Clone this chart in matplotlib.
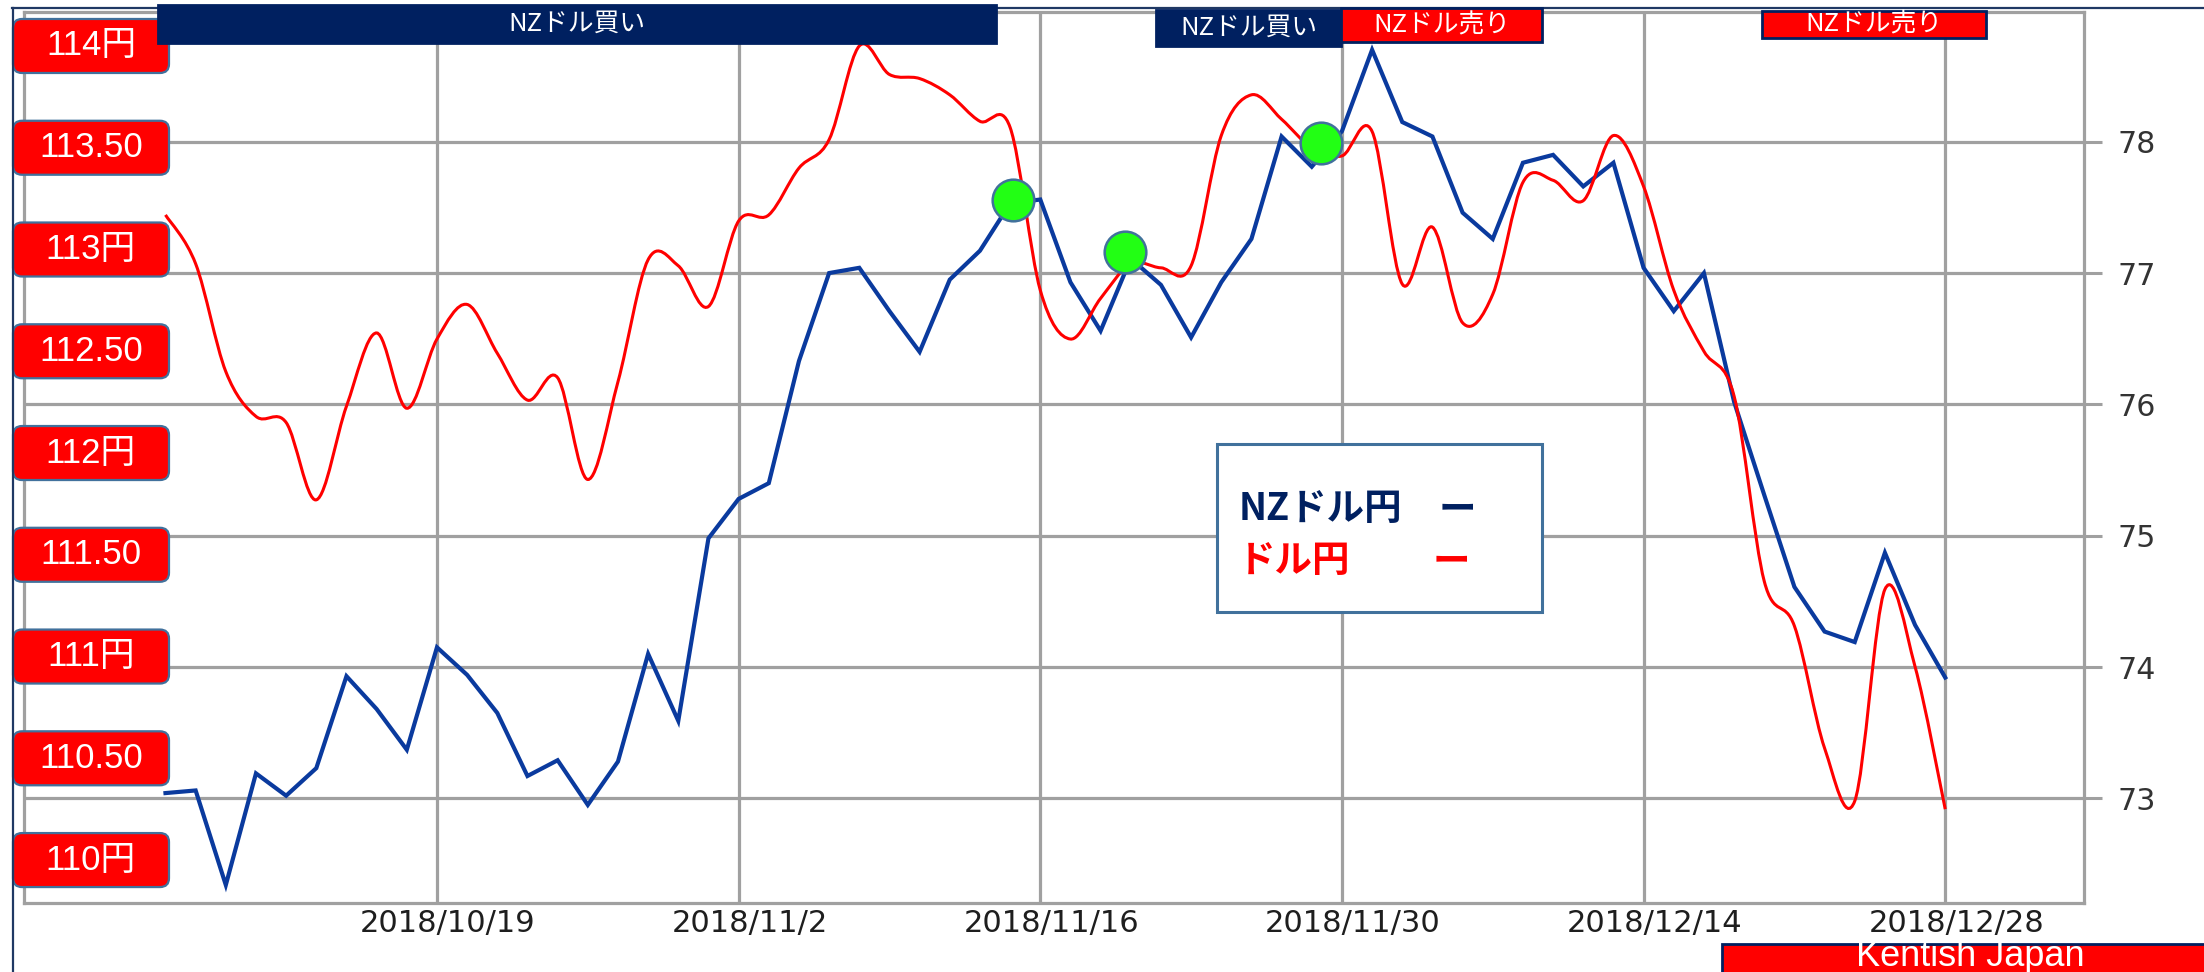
import numpy as np
import pandas as pd
import matplotlib
matplotlib.use("Agg")
import matplotlib.pyplot as plt
from matplotlib.path import Path
from matplotlib.patches import PathPatch, Rectangle, FancyBboxPatch
from matplotlib.lines import Line2D
from matplotlib.transforms import IdentityTransform, ScaledTranslation

# trading days shown on the x axis (weekdays 2018/10/8 - 2018/12/28)
dates = pd.bdate_range("2018-10-08", "2018-12-28")
tick_dates = ["2018-10-19", "2018-11-02", "2018-11-16", "2018-11-30", "2018-12-14", "2018-12-28"]
tick_labels = ["2018/10/19", "2018/11/2", "2018/11/16", "2018/11/30", "2018/12/14", "2018/12/28"]

# NZドル円 (right axis)
nzdjpy = [73.04, 73.06, 72.34, 73.19, 73.02, 73.23, 73.93, 73.68, 73.37, 74.15,
          73.94, 73.65, 73.17, 73.29, 72.95, 73.28, 74.10, 73.59, 74.98, 75.28,
          75.40, 76.33, 77.00, 77.04, 76.71, 76.40, 76.95, 77.17, 77.53, 77.56,
          76.93, 76.56, 77.11, 76.91, 76.51, 76.93, 77.26, 78.04, 77.81, 78.08,
          78.70, 78.15, 78.04, 77.46, 77.26, 77.84, 77.90, 77.66, 77.84, 77.04,
          76.71, 77.00, 76.02, 75.31, 74.61, 74.27, 74.19, 74.87, 74.32, 73.92]

# ドル円 (left scale)
usdjpy = [113.17, 112.93, 112.40, 112.18, 112.15, 111.77, 112.23, 112.59, 112.22, 112.56,
          112.73, 112.49, 112.26, 112.37, 111.87, 112.35, 112.95, 112.92, 112.72, 113.14,
          113.17, 113.40, 113.54, 114.00, 113.86, 113.84, 113.76, 113.63, 113.60, 112.80,
          112.56, 112.76, 112.93, 112.91, 112.92, 113.56, 113.76, 113.64, 113.50, 113.46,
          113.58, 112.83, 113.11, 112.64, 112.78, 113.33, 113.34, 113.24, 113.56, 113.31,
          112.80, 112.50, 112.28, 111.37, 111.15, 110.55, 110.29, 111.33, 110.95, 110.25]

# green signal markers (position in trading days, NZドル円 level)
signal_pos = [28.1, 31.8, 38.3]
signal_val = [77.56, 77.16, 77.99]

nz_ticks = [73, 74, 75, 76, 77, 78]
yen_levels = [114, 113.5, 113, 112.5, 112, 111.5, 111, 110.5, 110]
yen_labels = ["114円", "113.50", "113円", "112.50", "112円", "111.50", "111円", "110.50", "110円"]

banners = [("NZドル買い", "#002060"), ("NZドル買い", "#002060"),
           ("NZドル売り", "#FF0000"), ("NZドル売り", "#FF0000")]

JP = ["Noto Sans CJK JP", "DejaVu Sans"]
NUMJP = ["Liberation Sans", "Noto Sans CJK JP"]
NAVY = "#002060"
GRID = "#A0A0A0"

W, H = 2204, 972
fig = plt.figure(figsize=(W / 100, H / 100), dpi=100)


def fx(px):
    return px / W


def fy(py):
    return 1 - py / H


ax = fig.add_axes([fx(24), fy(903), fx(2084) - fx(24), fy(12) - fy(903)])
ax2 = ax.twinx()

x = np.arange(len(dates))
ax.plot(x, nzdjpy, color="#0A3A9E", lw=3.0, solid_joinstyle="miter", zorder=3)


def smooth_path(xs, ys):
    # smoothed line like the spreadsheet's "smooth line" option
    pts = np.column_stack([xs, ys]).astype(float)
    ext = np.vstack([pts[0], pts, pts[-1]])
    verts = [pts[0]]
    codes = [Path.MOVETO]
    for i in range(len(pts) - 1):
        p0, p1, p2, p3 = ext[i], ext[i + 1], ext[i + 2], ext[i + 3]
        verts += [p1 + (p2 - p0) / 6, p2 - (p3 - p1) / 6, p2]
        codes += [Path.CURVE4] * 3
    return Path(verts, codes)


ax2.add_patch(PathPatch(smooth_path(x, usdjpy), fill=False, edgecolor="#FF0000", lw=2.2, zorder=3))
ax2.plot(signal_pos, signal_val, "o", transform=ax.transData, ms=30,
         mfc="#22FF14", mec="#41719C", mew=1.8, zorder=5)

ax.set_xlim(-4.69, 63.6)
ax.set_ylim(72.203, 78.988)
ax2.set_ylim(109.789, 114.167)
ax2.set_xlim(-4.69, 63.6)

tick_idx = [dates.get_loc(pd.Timestamp(d)) for d in tick_dates]
ax.set_xticks(tick_idx)
ax.set_xticklabels(tick_labels, fontsize=22, color="#1E1E1E")
ax.tick_params(axis="x", length=0, pad=4)
for lbl in ax.get_xticklabels():
    lbl.set_transform(lbl.get_transform() + ScaledTranslation(11 / 100, 0, fig.dpi_scale_trans))

ax.yaxis.tick_right()
ax.set_yticks(nz_ticks)
ax.set_yticklabels([str(t) for t in nz_ticks], fontsize=21.6, color="#333333")
ax.tick_params(axis="y", length=13, width=2.2, color=GRID, pad=11)
ax2.set_yticks([])
ax.grid(True, color=GRID, lw=2.3)
ax.set_axisbelow(True)
for sp in ax.spines.values():
    sp.set_color(GRID)
    sp.set_linewidth(2.3)
for sp in ax2.spines.values():
    sp.set_visible(False)

# red level boxes on the left, placed on the ドル円 scale
for lvl, lab in zip(yen_levels, yen_labels):
    cy = ax2.transData.transform((0, lvl))[1]
    cx = 91
    fig.add_artist(FancyBboxPatch((cx - 78, cy - 27), 156, 54,
                                  boxstyle="round,pad=0,rounding_size=9",
                                  fc="#FF0000", ec="#41719C", lw=1.6,
                                  transform=IdentityTransform(), zorder=6))
    fig.text(cx, cy, lab, transform=IdentityTransform(), ha="center", va="center",
             color="white", fontsize=25, family=NUMJP, zorder=7)

# banners along the top
banner_boxes = [(158, 5, 996, 43), (1156, 10, 1341, 46), (1341, 8, 1542, 42), (1762, 11, 1986, 38)]
for (txt, col), (x0, y0, x1, y1) in zip(banners, banner_boxes):
    ec = NAVY if col == "#FF0000" else col
    fig.add_artist(Rectangle((fx(x0), fy(y1)), fx(x1) - fx(x0), fy(y0) - fy(y1),
                             transform=fig.transFigure, fc=col, ec=ec, lw=2, zorder=6))
    fig.text(fx((x0 + x1) / 2), fy((y0 + y1) / 2), txt, ha="center", va="center",
             color="white", fontsize=18.5, family=JP, zorder=7)

# legend box
fig.add_artist(Rectangle((fx(1217), fy(612)), fx(1542) - fx(1217), fy(444) - fy(612),
                         transform=fig.transFigure, fc="white", ec="#41719C", lw=2.2, zorder=6))
fig.text(fx(1239), fy(520), "NZドル円", ha="left", va="baseline", color=NAVY,
         fontsize=27, fontweight="bold", family=JP, zorder=7)
fig.text(fx(1457), fy(520), "ー", ha="center", va="baseline", color=NAVY,
         fontsize=27, fontweight="bold", family=JP, zorder=7)
fig.text(fx(1238), fy(572), "ドル円", ha="left", va="baseline", color="#FF0000",
         fontsize=27, fontweight="bold", family=JP, zorder=7)
fig.text(fx(1451), fy(572), "ー", ha="center", va="baseline", color="#FF0000",
         fontsize=27, fontweight="bold", family=JP, zorder=7)

# credit box bottom right
fig.add_artist(Rectangle((fx(1722), fy(975)), fx(2210) - fx(1722), fy(944) - fy(975),
                         transform=fig.transFigure, fc="#FF0000", ec=NAVY, lw=2, zorder=6))
fig.text(fx(1970), fy(939), "Kentish Japan", ha="center", va="top", color="white",
         fontsize=26, family=["Liberation Sans"], zorder=7)

# outer border lines
fig.add_artist(Line2D([fx(12.6), fx(12.6)], [fy(8), 0], transform=fig.transFigure,
                      color="#1F3864", lw=1.6, zorder=8))
fig.add_artist(Line2D([fx(12), 1], [fy(8), fy(8)], transform=fig.transFigure,
                      color="#1F3864", lw=1.6, zorder=5))

fig.savefig("out.png", dpi=100, facecolor="white")
